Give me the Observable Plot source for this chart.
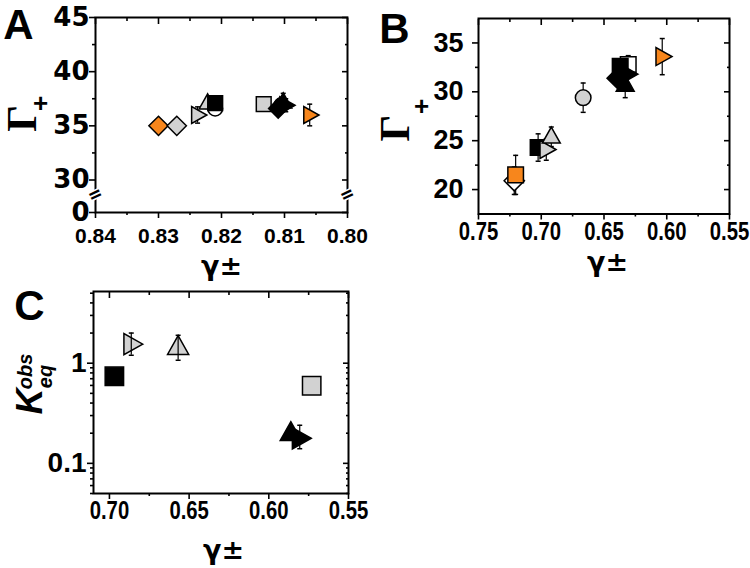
<!DOCTYPE html>
<html><head><meta charset="utf-8">
<script src="https://cdn.jsdelivr.net/npm/d3@7"></script>
<script src="https://cdn.jsdelivr.net/npm/@observablehq/plot@0.6"></script>
<style>
body{margin:0;background:#fff;}
#fig{position:relative;width:750px;height:568px;overflow:hidden;background:#fff;}
#fig svg{position:absolute;overflow:visible;background:transparent;}
</style></head><body><div id="fig"></div>
<script>
// ---------- Panel A data ----------
const aGamma  = [0.8300, 0.8271, 0.8238, 0.8222, 0.8210, 0.8210, 0.8133, 0.8110, 0.8102, 0.8098, 0.8105, 0.8060];
const aGammaP = [35.0,   35.0,   36.0,   37.1,   36.6,   37.1,   37.0,   36.6,   37.2,   36.9,   36.9,   36.0];
const aErr    = [0,      0,      0.75,   0.5,    0,      0.4,    0,      0.5,    0.8,    0.6,    0.5,    1.0];
const aShape  = ["dia", "dia", "triR", "triU", "circ", "sq", "sq", "dia", "triU", "triR", "circ", "triR"];
const aFill   = ["orange", "gray", "gray", "gray", "white", "black", "gray", "black", "black", "black", "black", "orange"];
const aXMajor = [0.84, 0.83, 0.82, 0.81, 0.80];
const aXMinor = [0.835, 0.825, 0.815, 0.805];
const aYBottom = 27;            // axis position where the broken axis resumes at "0"
const aYMajor = [aYBottom, 30, 35, 40, 45];
const aYLabels = ["0", "30", "35", "40", "45"];
const aYMinor = [32.5, 37.5, 42.5];
const aBreak  = 28.6;

// ---------- Panel B data ----------
const bGamma  = [0.7215, 0.7204, 0.7025, 0.6960, 0.6920, 0.6666, 0.6307, 0.6371, 0.6307, 0.6395, 0.6331, 0.6036];
const bGammaP = [20.9,   21.5,   24.3,   24.1,   25.4,   29.4,   32.8,   32.6,   31.8,   31.4,   30.7,   33.6];
const bErr    = [1.4,    2.0,    1.4,    1.1,    1.0,    1.5,    0.9,    0,      0,      0,      1.3,    1.85];
const bShape  = ["dia", "sq", "sq", "triR", "triU", "circ", "sq", "sq", "triR", "dia", "triU", "triR"];
const bFill   = ["white", "orange", "black", "gray", "gray", "gray", "white", "black", "black", "black", "black", "orange"];
const bXMajor = [0.75, 0.70, 0.65, 0.60, 0.55];
const bXMinor = [0.725, 0.675, 0.625, 0.575];
const bYMajor = [20, 25, 30, 35];
const bYMinor = [22.5, 27.5, 32.5];

// ---------- Panel C data ----------
const cGamma  = [0.6969, 0.6863, 0.6569, 0.5731, 0.5862, 0.5806];
const cK      = [0.74,   1.55,   1.45,   0.596,  0.20,   0.178];
const cKLo    = [0.74,   1.20,   1.07,   0.596,  0.20,   0.14];
const cKHi    = [0.74,   2.00,   1.90,   0.596,  0.20,   0.24];
const cShape  = ["sq", "triR", "triU", "sq", "triU", "triR"];
const cFill   = ["black", "gray", "gray", "gray", "black", "black"];
const cXMajor = [0.70, 0.65, 0.60, 0.55];
const cXMinor = [0.675, 0.625, 0.575];
const cYMajor = [0.1, 1];
const cYMinor = [0.05, 0.06, 0.07, 0.08, 0.09, 0.2, 0.3, 0.4, 0.5, 0.6, 0.7, 0.8, 0.9, 2, 3, 4, 5];

const COLORS = {orange: "#F7861C", gray: "#D2D2D2", black: "#000000", white: "#FFFFFF"};

// custom symbols (size -> r = sqrt(size/pi))
const rad = s => Math.sqrt(s / Math.PI);
const SYM = {
  sq:   {draw(c, s) { const r = rad(s); c.rect(-r, -r, 2 * r, 2 * r); }},
  dia:  {draw(c, s) { const r = rad(s) * 1.3; c.moveTo(0, -r); c.lineTo(r, 0); c.lineTo(0, r); c.lineTo(-r, 0); c.closePath(); }},
  triU: {draw(c, s) { const r = rad(s); c.moveTo(0, -1.25 * r); c.lineTo(1.15 * r, 0.8 * r); c.lineTo(-1.15 * r, 0.8 * r); c.closePath(); }},
  triR: {draw(c, s) { const r = rad(s); c.moveTo(1.25 * r, 0); c.lineTo(-0.8 * r, 1.15 * r); c.lineTo(-0.8 * r, -1.15 * r); c.closePath(); }},
  circ: {draw(c, s) { const r = rad(s); c.moveTo(r, 0); c.arc(0, 0, r, 0, 2 * Math.PI); }}
};
const CAP = {draw(c, s) { const r = rad(s); c.moveTo(-r, 0); c.lineTo(r, 0); }};
const symScale = {domain: Object.keys(SYM), range: Object.values(SYM)};

const rows = (g, v, lo, hi, sh, fi) => g.map((x, i) => ({x, y: v[i], lo: lo[i], hi: hi[i], shape: sh[i], fill: COLORS[fi[i]]}));
const aRows = rows(aGamma, aGammaP, aGammaP.map((v, i) => v - aErr[i]), aGammaP.map((v, i) => v + aErr[i]), aShape, aFill);
const bRows = rows(bGamma, bGammaP, bGammaP.map((v, i) => v - bErr[i]), bGammaP.map((v, i) => v + bErr[i]), bShape, bFill);
const cRows = rows(cGamma, cK, cKLo, cKHi, cShape, cFill);

const SANS = "Liberation Sans, Arial, sans-serif";
const DEJA = "DejaVu Sans, sans-serif";
const fmt2 = d3.format(".2f");
const none = () => "";

function axes({xMajor, xMinor, yMajor, yMinor, xFmt, yFmt, xFont, yFont, xPad, yPad}) {
  const common = {label: null, strokeWidth: 1.6};
  return [
    Plot.axisX({...common, anchor: "bottom", ticks: xMajor, tickSize: 6, tickPadding: xPad, tickFormat: xFmt, fontWeight: "bold", ...xFont}),
    Plot.axisX({...common, anchor: "bottom", ticks: xMinor, tickSize: 3, tickFormat: none}),
    Plot.axisX({...common, anchor: "top", ticks: xMajor, tickSize: -6, tickFormat: none}),
    Plot.axisX({...common, anchor: "top", ticks: xMinor, tickSize: -3, tickFormat: none}),
    Plot.axisY({...common, anchor: "left", ticks: yMajor, tickSize: 6, tickPadding: yPad, tickFormat: yFmt, fontWeight: "bold", ...yFont}),
    Plot.axisY({...common, anchor: "left", ticks: yMinor, tickSize: 3, tickFormat: none}),
    Plot.axisY({...common, anchor: "right", ticks: yMajor, tickSize: -6, tickFormat: none}),
    Plot.axisY({...common, anchor: "right", ticks: yMinor, tickSize: -3, tickFormat: none})
  ];
}

// error bars either behind the symbols (A, B) or on top of them (C)
function points(data, r, capR, barsOnTop) {
  const eb = data.filter(d => d.hi > d.lo);
  const bars = [
    Plot.ruleX(eb, {x: "x", y1: "lo", y2: "hi", stroke: "black", strokeWidth: 1.2}),
    Plot.dot(eb, {x: "x", y: "hi", symbol: CAP, r: capR, stroke: "black", strokeWidth: 1.5, fill: "none"}),
    Plot.dot(eb, {x: "x", y: "lo", symbol: CAP, r: capR, stroke: "black", strokeWidth: 1.5, fill: "none"})
  ];
  const dots = Plot.dot(data, {x: "x", y: "y", symbol: "shape", fill: "fill", stroke: "black", strokeWidth: 1.5, r});
  return barsOnTop ? [dots, ...bars] : [...bars, dots];
}

// horizontally condense the x tick labels (narrow bold face of the original)
function squeeze(svg, k) {
  svg.querySelectorAll('g[aria-label="x-axis tick label"] text').forEach(t => {
    const x = t.getAttribute("x");
    if (x !== null) t.setAttribute("x", +x / k);
    const tr = t.getAttribute("transform") || "";
    t.setAttribute("transform", tr + ` scale(${k},1)`);
  });
}

function place(svg, left, top) {
  svg.style.left = left + "px";
  svg.style.top = top + "px";
  document.getElementById("fig").appendChild(svg);
}

const label = (t, o) => Plot.text([t], {fill: "black", fontWeight: "bold", fontFamily: SANS, textAnchor: "middle", lineAnchor: "middle", ...o});

// ---------- Panel A ----------
const plotA = Plot.plot({
  width: 370, height: 282,
  marginLeft: 95, marginRight: 23, marginTop: 17, marginBottom: 70,
  style: {background: "transparent", overflow: "visible"},
  x: {domain: [0.80, 0.84], reverse: true},
  y: {domain: [aYBottom, 45]},
  symbol: symScale,
  marks: [
    Plot.frame({stroke: "black", strokeWidth: 2}),
    ...axes({xMajor: aXMajor, xMinor: aXMinor, yMajor: aYMajor, yMinor: aYMinor, xFmt: fmt2,
      yFmt: d => aYLabels[aYMajor.indexOf(d)],
      xFont: {fontSize: 21, fontFamily: SANS}, yFont: {fontSize: 26, fontFamily: DEJA}, xPad: 10, yPad: 0}),
    Plot.text([d3.min(aXMajor), d3.max(aXMajor)], {x: d => d, y: () => aBreak, text: () => "=", rotate: -25, fontSize: 22, fontWeight: "bold", fill: "black", stroke: "white", strokeWidth: 3}),
    ...points(aRows, 7.4, 2.5, false),
    label("A", {frameAnchor: "top-left", dx: -77, dy: 8, fontSize: 42}),
    label("Γ", {frameAnchor: "left", dx: -73, dy: 3.5, rotate: -90, fontSize: 42, fontFamily: "Liberation Serif, serif"}),
    label("+", {frameAnchor: "left", dx: -55, dy: -11.5, fontSize: 26}),
    label("γ±", {frameAnchor: "bottom", dy: 54, fontSize: 27, fontFamily: DEJA})
  ]
});
place(plotA, 0, 0);

// ---------- Panel B ----------
const plotB = Plot.plot({
  width: 380, height: 282,
  marginLeft: 108, marginRight: 21, marginTop: 18, marginBottom: 68.5,
  style: {background: "transparent", overflow: "visible"},
  x: {domain: [0.55, 0.75], reverse: true},
  y: {domain: [17.5, 37.5]},
  symbol: symScale,
  marks: [
    Plot.frame({stroke: "black", strokeWidth: 2}),
    ...axes({xMajor: bXMajor, xMinor: bXMinor, yMajor: bYMajor, yMinor: bYMinor, xFmt: fmt2, yFmt: d => String(d),
      xFont: {fontSize: 26, fontFamily: SANS}, yFont: {fontSize: 27, fontFamily: SANS}, xPad: 2, yPad: 9}),
    ...points(bRows, 7.8, 2.5, false),
    label("B", {frameAnchor: "top-left", dx: -84, dy: 11, fontSize: 42}),
    label("Γ", {frameAnchor: "left", dx: -83, dy: 12, rotate: -90, fontSize: 42, fontFamily: "Liberation Serif, serif"}),
    label("+", {frameAnchor: "left", dx: -57, dy: -10, fontSize: 26}),
    label("γ±", {frameAnchor: "bottom", dx: 3.5, dy: 48.5, fontSize: 27, fontFamily: DEJA})
  ]
});
squeeze(plotB, 0.78);
place(plotB, 370, 0);

// ---------- Panel C ----------
const plotC = Plot.plot({
  width: 375, height: 286,
  marginLeft: 93, marginRight: 27, marginTop: 9, marginBottom: 75,
  style: {background: "transparent", overflow: "visible"},
  x: {domain: [0.55, 0.71], reverse: true},
  y: {type: "log", domain: [0.05, 5.2]},
  symbol: symScale,
  marks: [
    Plot.frame({stroke: "black", strokeWidth: 2}),
    ...axes({xMajor: cXMajor, xMinor: cXMinor, yMajor: cYMajor, yMinor: cYMinor, xFmt: fmt2, yFmt: d => String(d),
      xFont: {fontSize: 26, fontFamily: SANS}, yFont: {fontSize: 28, fontFamily: SANS}, xPad: 1, yPad: 1}),
    ...points(cRows, 9.2, 2.5, true),
    label("C", {frameAnchor: "top-left", dx: -64, dy: 15, fontSize: 42}),
    label("K", {frameAnchor: "left", dx: -63, dy: 9, rotate: -90, fontSize: 36, fontStyle: "italic"}),
    label("obs", {frameAnchor: "left", dx: -68, dy: -21, rotate: -90, fontSize: 20, fontStyle: "italic"}),
    label("eq", {frameAnchor: "left", dx: -48, dy: -16, rotate: -90, fontSize: 20, fontStyle: "italic"}),
    label("γ±", {frameAnchor: "bottom", dx: 2.5, dy: 57, fontSize: 27, fontFamily: DEJA})
  ]
});
squeeze(plotC, 0.78);
place(plotC, 0, 282);
</script>
</body></html>
